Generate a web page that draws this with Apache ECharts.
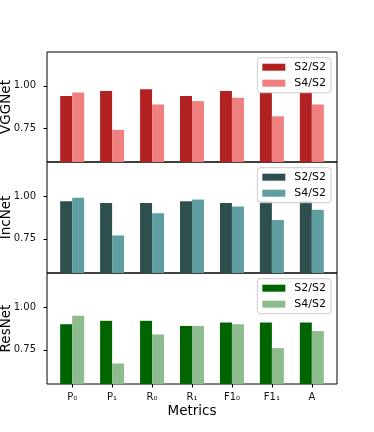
<!DOCTYPE html>
<html>
<head>
<meta charset="utf-8">
<style>html,body{margin:0;padding:0;background:#fff;}#c{width:374px;height:432px;}</style>
<script src="https://cdn.jsdelivr.net/npm/echarts@6/dist/echarts.min.js"></script>
</head>
<body>
<div id="c"></div>
<script>
const categories = ['P\u2080','P\u2081','R\u2080','R\u2081','F1\u2080','F1\u2081','A'];
const models = ['VGGNet','IncNet','ResNet'];
const seriesNames = ['S2/S2','S4/S2'];
const vggS2 = [0.94, 0.97, 0.98, 0.94, 0.97, 0.96, 0.96];
const vggS4 = [0.96, 0.74, 0.89, 0.91, 0.93, 0.82, 0.89];
const incS2 = [0.97, 0.96, 0.96, 0.97, 0.96, 0.97, 0.97];
const incS4 = [0.99, 0.77, 0.90, 0.98, 0.94, 0.86, 0.92];
const resS2 = [0.90, 0.92, 0.92, 0.89, 0.91, 0.91, 0.91];
const resS4 = [0.95, 0.67, 0.84, 0.89, 0.90, 0.76, 0.86];
const yTicks = [0.75, 1.00];
const values = [[vggS2, vggS4],[incS2, incS4],[resS2, resS4]];
const colors = [['#B22222','#F08080'],['#2F4F4F','#5F9EA0'],['#006400','#8FBC8F']];

const FONT = 'DejaVu Sans';
const tops = [52, 162, 273];
const heights = [110, 111, 111];
const idx = categories.map((c,i)=>i);

const grids = [], xAxes = [], yAxes = [], series = [], legends = [];
models.forEach((m, g) => {
  grids.push({left:47, right:37, top:tops[g], height:heights[g], show:true, borderColor:'#000', borderWidth:1, backgroundColor:'transparent', containLabel:false, outerBoundsMode:'none'});
  const last = g === models.length-1;
  xAxes.push({
    type:'value', gridIndex:g, min:-0.63, max:6.63,
    axisLine:{show:false, onZero:false}, splitLine:{show:false},
    axisTick:{show:last, customValues:idx, length:3.5, lineStyle:{color:'#000'}},
    axisLabel:{show:last, customValues:idx, margin:8, color:'#111', fontFamily:FONT, fontSize:10,
      formatter:(v)=>categories[Math.round(v)]},
    name: last ? 'Metrics' : '', nameLocation:'middle', nameGap:20, nameMoveOverlap:false,
    nameTextStyle:{color:'#000', fontFamily:FONT, fontSize:13.5}
  });
  yAxes.push({
    type:'value', gridIndex:g, min:0.55, max:1.2,
    axisLine:{show:false, onZero:false}, splitLine:{show:false},
    axisTick:{show:true, customValues:yTicks, length:3.5, lineStyle:{color:'#000', width:1}},
    axisLabel:{customValues:yTicks, margin:11, color:'#111', fontFamily:FONT, fontSize:10,
      formatter:(v)=>v.toFixed(2)},
    name:m, nameLocation:'middle', nameGap:34, nameMoveOverlap:false,
    nameTextStyle:{color:'#000', fontFamily:FONT, fontSize:13.5}
  });
  const names = [];
  seriesNames.forEach((s, k) => {
    const nm = m + '|' + s;
    names.push(nm);
    series.push({
      type:'bar', name:nm, xAxisIndex:g, yAxisIndex:g,
      barWidth:12, barGap:'0%',
      itemStyle:{color:colors[g][k]},
      data: values[g][k].map((v,i)=>[i, v])
    });
  });
  legends.push({
    data:names, orient:'vertical', right:43, top:tops[g]+5.7,
    itemWidth:23, itemHeight:7, itemGap:2,
    padding:[2.5,5,2.5,5],
    backgroundColor:'rgba(255,255,255,0.8)', borderColor:'#ccc', borderWidth:1, borderRadius:3,
    icon:'rect',
    formatter:(n)=>n.split('|')[1],
    textStyle:{fontFamily:FONT, fontSize:11, color:'#000', lineHeight:14, padding:[0,0,0,4]},
    selectedMode:false
  });
});

const chart = echarts.init(document.getElementById('c'), null, {renderer:'canvas'});
chart.setOption({
  animation:false,
  backgroundColor:'#fff',
  grid:grids, xAxis:xAxes, yAxis:yAxes, series:series, legend:legends
});
</script>
</body>
</html>
